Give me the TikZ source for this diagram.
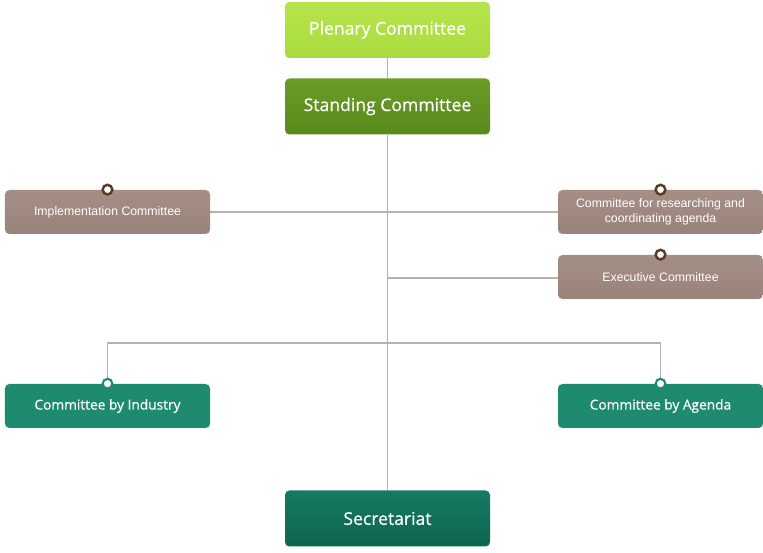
\documentclass[tikz,border=0pt]{standalone}
\usepackage{fontspec}
\setmainfont{Open Sans}
\newfontfamily\boxfont[FakeBold=0.6]{Open Sans}
\newfontfamily\smallfont{Liberation Sans}
\usepackage{xcolor}
\usetikzlibrary{backgrounds}
\definecolor{lime}{HTML}{A9DB3E}
\definecolor{limetop}{HTML}{B6E44C}
\definecolor{moss}{HTML}{5A8A1C}
\definecolor{mosstop}{HTML}{6A9C27}
\definecolor{taupe}{HTML}{9A8279}
\definecolor{taupetop}{HTML}{A48F86}
\definecolor{ring}{HTML}{5E3A22}
\definecolor{teal}{HTML}{1E8A6F}
\definecolor{pine}{HTML}{0D6550}
\definecolor{pinetop}{HTML}{167A62}
\definecolor{link}{HTML}{B2B2B2}

\begin{document}
\begin{tikzpicture}[line cap=round,
  box/.style={minimum width=4.1cm,rounded corners=2.5pt,text=white,align=center,inner sep=0pt},
  bigbox/.style={box,minimum height=1.12cm,font=\boxfont\fontsize{10}{12}\selectfont},
  greybox/.style={box,minimum height=0.88cm,top color=taupetop,bottom color=taupe,font=\smallfont\fontsize{7}{8.2}\selectfont},
  tealbox/.style={box,minimum height=0.88cm,fill=teal,font=\boxfont\fontsize{7.8}{10}\selectfont},
  wire/.style={link,line width=0.9pt},
  browndot/.style={circle,draw=ring,fill=white,line width=1.4pt,inner sep=0pt,minimum size=5.5pt},
  whitedot/.style={circle,draw=teal,fill=white,line width=1.2pt,inner sep=0pt,minimum size=5.5pt}]
\useasboundingbox (0,0) rectangle (15.26,-11.06);
% top of the tree
\node[bigbox,top color=limetop,bottom color=lime] (plen) at (7.75,-0.6) {Plenary Committee};
\node[bigbox,top color=mosstop,bottom color=moss] (stand) at (7.75,-2.13) {Standing Committee};
\node[bigbox,top color=pinetop,bottom color=pine] (secr) at (7.75,-10.37) {Secretariat};
% side committees
\node[greybox] (impl) at (2.15,-4.24) {Implementation Committee};
\node[greybox] (rsch) at (13.21,-4.24) {Committee for researching and\\coordinating agenda};
\node[greybox] (exec) at (13.21,-5.54) {Executive Committee};
\node[tealbox] (ind) at (2.15,-8.12) {Committee by Industry};
\node[tealbox] (agd) at (13.21,-8.12) {Committee by Agenda};
% dots
\node[browndot] (d1) at (impl.north) {};
\node[browndot] (d2) at (rsch.north) {};
\node[browndot] (d3) at (exec.north) {};
\node[whitedot] (d4) at (ind.north) {};
\node[whitedot] (d5) at (agd.north) {};
% links
\coordinate (ex) at (7.75,-5.56);
\coordinate (split) at (7.75,-6.86);
\begin{scope}[on background layer]
\draw[wire] (plen.south) -- (stand.north);
\draw[wire] (stand.south) -- (secr.north);
\draw[wire] (impl.east) -- (rsch.west);
\draw[wire] (ex) -- (exec.west |- ex);
\draw[wire] (d4) |- (split) -| (d5);
\end{scope}
\end{tikzpicture}
\end{document}
